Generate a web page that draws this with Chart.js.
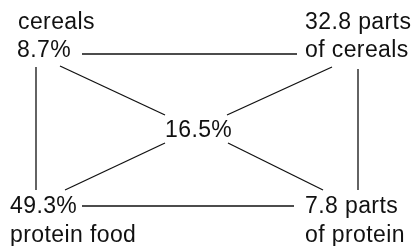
<!DOCTYPE html>
<html lang="en">

<head>
  <meta charset="UTF-8">
  <title>Pearson square: cereals and protein food</title>
  <script src="https://cdn.jsdelivr.net/npm/chart.js"></script>
  <style>
    html, body { margin: 0; padding: 0; background: #fff; }
    #wrap { width: 414px; height: 246px; }
  </style>
</head>

<body>
  <div id="wrap"><canvas id="square" width="414" height="246"></canvas></div>

  <script>
    // the five numbers of the square
    const cornerValues = ['8.7%', '32.8 parts', '49.3%', '7.8 parts', '16.5%'];
    // second text lines belonging to the corners
    const cornerNames = ['cereals', 'of cereals', 'protein food', 'of protein'];

    // connecting strokes [x1, y1, x2, y2] in the 414 x 246 frame
    const segments = [
      [82, 54, 297, 54],     // top
      [82, 206, 294, 206],   // bottom
      [36, 67, 36, 190],     // left
      [358, 69, 358, 190],   // right
      [60, 66, 165, 115],    // 8.7 -> 16.5
      [332, 67, 227, 115],   // 16.5 -> 32.8
      [65, 190, 165, 143],   // 49.3 -> 16.5
      [323, 190, 228, 143],  // 16.5 -> 7.8
    ];

    // text anchors [text, x, baseline y]
    const labels = [
      [cornerNames[0], 18, 29],
      [cornerValues[0], 17, 57],
      [cornerValues[1], 305, 29],
      [cornerNames[1], 305, 57],
      [cornerValues[4], 165, 137],
      [cornerValues[2], 10, 213],
      [cornerNames[2], 10, 242],
      [cornerValues[3], 305, 213],
      [cornerNames[3], 305, 242],
    ];

    const textPlugin = {
      id: 'squareText',
      afterDatasetsDraw(chart) {
        const ctx = chart.ctx;
        const xs = chart.scales.x, ys = chart.scales.y;
        ctx.save();
        ctx.fillStyle = '#111';
        ctx.font = '23px "Liberation Sans", Arial, sans-serif';
        ctx.letterSpacing = '0.4px';
        ctx.textAlign = 'left';
        ctx.textBaseline = 'alphabetic';
        for (const [t, x, y] of labels) {
          ctx.fillText(t, xs.getPixelForValue(x), ys.getPixelForValue(y));
        }
        ctx.restore();
      }
    };

    new Chart(document.getElementById('square').getContext('2d'), {
      type: 'scatter',
      data: {
        datasets: segments.map(s => ({
          data: [{ x: s[0], y: s[1] }, { x: s[2], y: s[3] }],
          showLine: true,
          borderColor: '#111',
          borderWidth: 1.3,
          pointRadius: 0,
          fill: false,
        })),
      },
      options: {
        responsive: false,
        animation: false,
        events: [],
        layout: { padding: 0 },
        scales: {
          x: { type: 'linear', min: 0, max: 414, display: false },
          y: { type: 'linear', min: 0, max: 246, reverse: true, display: false },
        },
        plugins: {
          legend: { display: false },
          tooltip: { enabled: false },
        }
      },
      plugins: [textPlugin]
    });
  </script>
</body>

</html>
